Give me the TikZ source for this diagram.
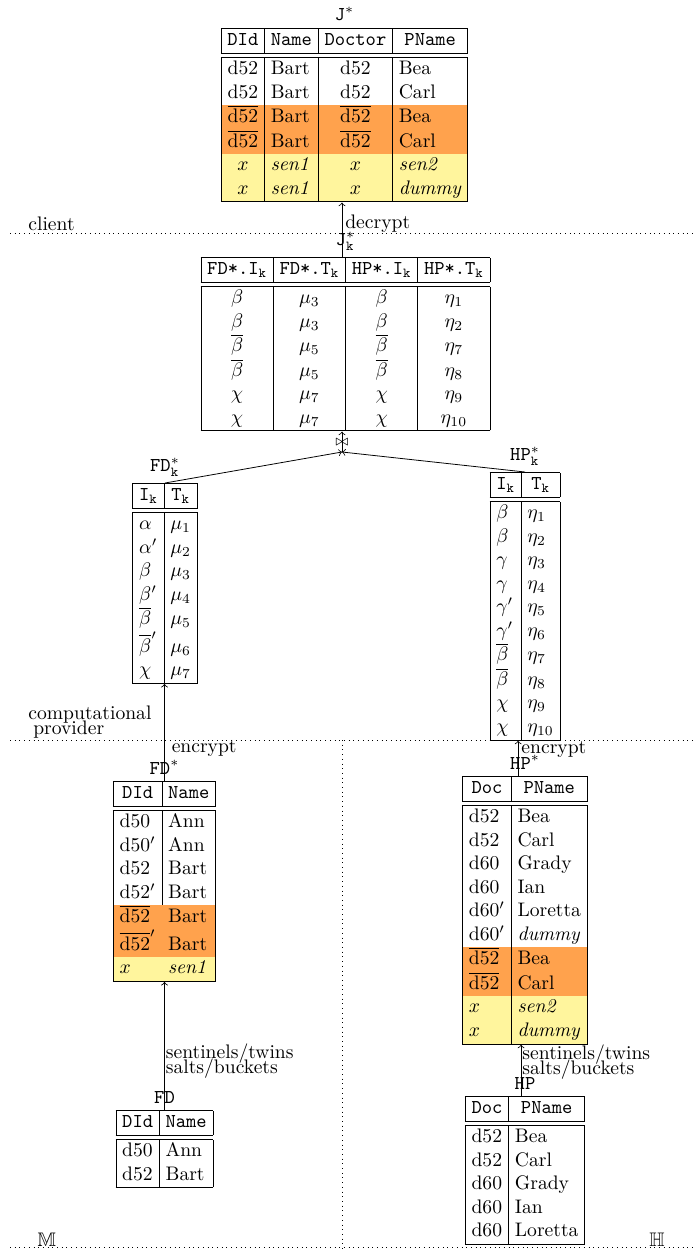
\documentclass[tikz,border=0pt]{standalone}
\usepackage{amsmath,amssymb}
\usepackage{colortbl}

\definecolor{twin}{HTML}{FFA24D}
\definecolor{sentinel}{HTML}{FFF59D}

\setlength{\tabcolsep}{3pt}
\newcommand{\hdf}[1]{\multicolumn{1}{|c|}{\texttt{#1}}}
\newcommand{\hd}[1]{\multicolumn{1}{c|}{\texttt{#1}}}
\newcommand{\ov}[1]{$\overline{\mbox{#1}}$}

\begin{document}
\begin{tikzpicture}[
  x=0.5102pt, y=-0.5102pt,
  tbl/.style={inner sep=0pt, anchor=north},
  flow/.style={->},
  zone/.style={dotted},
  elab/.style={anchor=west, inner sep=1.5pt}
]
\useasboundingbox (0,0) rectangle (695,1249);

% client side
\node[tbl, label=above:{\texttt{J}$^*$}] (J) at (344.5,28) {%
\begin{tabular}{|c|l|c|l|}
\hline
\hdf{DId} & \hd{Name} & \hd{Doctor} & \hd{PName}\\
\hline\hline
d52 & Bart & d52 & Bea\\
d52 & Bart & d52 & Carl\\
\rowcolor{twin} \ov{d52} & Bart & \ov{d52} & Bea\\
\rowcolor{twin} \ov{d52} & Bart & \ov{d52} & Carl\\
\rowcolor{sentinel} $x$ & \emph{sen1} & $x$ & \emph{sen2}\\
\rowcolor{sentinel} $x$ & \emph{sen1} & $x$ & \emph{dummy}\\
\hline
\end{tabular}};

% computational provider
\node[tbl, label=above:{\texttt{J}$^*_\mathtt{k}$}] (Jk) at (345.5,257) {%
\begin{tabular}{|c|c|c|c|}
\hline
\multicolumn{1}{|c|}{\texttt{FD*.I}$_\mathtt{k}$} & \multicolumn{1}{c|}{\texttt{FD*.T}$_\mathtt{k}$} &
\multicolumn{1}{c|}{\texttt{HP*.I}$_\mathtt{k}$} & \multicolumn{1}{c|}{\texttt{HP*.T}$_\mathtt{k}$}\\
\hline\hline
$\beta$ & $\mu_3$ & $\beta$ & $\eta_1$\\
$\beta$ & $\mu_3$ & $\beta$ & $\eta_2$\\
$\overline{\beta}$ & $\mu_5$ & $\overline{\beta}$ & $\eta_7$\\
$\overline{\beta}$ & $\mu_5$ & $\overline{\beta}$ & $\eta_8$\\
$\chi$ & $\mu_7$ & $\chi$ & $\eta_9$\\
$\chi$ & $\mu_7$ & $\chi$ & $\eta_{10}$\\
\hline
\end{tabular}};

\node[tbl, label=above:{\texttt{FD}$^*_\mathtt{k}$}] (FDk) at (165,483) {%
\begin{tabular}{|l|l|}
\hline
\hdf{I$_\mathtt{k}$} & \hd{T$_\mathtt{k}$}\\
\hline\hline
$\alpha$ & $\mu_1$\\
$\alpha'$ & $\mu_2$\\
$\beta$ & $\mu_3$\\
$\beta'$ & $\mu_4$\\
$\overline{\beta}$ & $\mu_5$\\
$\overline{\beta}'$ & $\mu_6$\\
$\chi$ & $\mu_7$\\
\hline
\end{tabular}};

\node[tbl, label=above:{\texttt{HP}$^*_\mathtt{k}$}] (HPk) at (525,472) {%
\begin{tabular}{|l|l|}
\hline
\hdf{I$_\mathtt{k}$} & \hd{T$_\mathtt{k}$}\\
\hline\hline
$\beta$ & $\eta_1$\\
$\beta$ & $\eta_2$\\
$\gamma$ & $\eta_3$\\
$\gamma$ & $\eta_4$\\
$\gamma'$ & $\eta_5$\\
$\gamma'$ & $\eta_6$\\
$\overline{\beta}$ & $\eta_7$\\
$\overline{\beta}$ & $\eta_8$\\
$\chi$ & $\eta_9$\\
$\chi$ & $\eta_{10}$\\
\hline
\end{tabular}};

% data owners
\node[tbl, label=above:{\texttt{FD}$^*$}] (FDs) at (164.5,781) {%
\begin{tabular}{|l|l|}
\hline
\hdf{DId} & \hd{Name}\\
\hline\hline
d50 & Ann\\
d50$'$ & Ann\\
d52 & Bart\\
d52$'$ & Bart\\
\rowcolor{twin} \ov{d52} & Bart\\
\rowcolor{twin} $\overline{\mbox{d52}}'$ & Bart\\
\rowcolor{sentinel} $x$ & \emph{sen1}\\
\hline
\end{tabular}};

\node[tbl, label=above:{\texttt{HP}$^*$}] (HPs) at (525,776) {%
\begin{tabular}{|l|l|}
\hline
\hdf{Doc} & \hd{PName}\\
\hline\hline
d52 & Bea\\
d52 & Carl\\
d60 & Grady\\
d60 & Ian\\
d60$'$ & Loretta\\
d60$'$ & \emph{dummy}\\
\rowcolor{twin} \ov{d52} & Bea\\
\rowcolor{twin} \ov{d52} & Carl\\
\rowcolor{sentinel} $x$ & \emph{sen2}\\
\rowcolor{sentinel} $x$ & \emph{dummy}\\
\hline
\end{tabular}};

\node[tbl, label=above:{\texttt{FD}}] (FD) at (164.5,1110) {%
\begin{tabular}{|l|l|}
\hline
\hdf{DId} & \hd{Name}\\
\hline\hline
d50 & Ann\\
d52 & Bart\\
\hline
\end{tabular}};

\node[tbl, label=above:{\texttt{HP}}] (HP) at (525,1096) {%
\begin{tabular}{|l|l|}
\hline
\hdf{Doc} & \hd{PName}\\
\hline\hline
d52 & Bea\\
d52 & Carl\\
d60 & Grady\\
d60 & Ian\\
d60 & Loretta\\
\hline
\end{tabular}};

% zones
\draw[zone] (10,233) -- (695,233);
\draw[zone] (10,740) -- (695,740);
\draw[zone] (10,1247) -- (695,1247);
\draw[zone] (342,740) -- (342,1249);
\node[anchor=west, inner sep=0pt] (client) at (28,224) {client};
\node[anchor=west, inner sep=0pt, align=left] (provider) at (28,722) {computational\\[-4.5pt]\hspace{2.5pt}provider};
\node[inner sep=0pt] (owner1) at (47,1240) {$\mathbb{M}$};
\node[inner sep=0pt] (owner2) at (657,1240) {$\mathbb{H}$};

% connections
\coordinate (join) at (342,452);
\draw[flow] (FDk.north) -- (join);
\draw[flow] (HPk.north) -- (join);
\draw[flow] (join) -- node[inner sep=0pt, font=\scriptsize] {$\bowtie$} (join |- Jk.south);
\draw[flow] (join |- Jk.north) -- node[elab, pos=0.61] {decrypt} (join |- J.south);

\draw[flow] (FDs.north) -- node[elab, pos=0.34, xshift=2pt] {encrypt} (FDs.north |- FDk.south);
\draw[flow] ([xshift=-3.5pt]HPs.north) -- node[elab, pos=0.74] {encrypt} ([xshift=-3.5pt]HPs.north |- HPk.south);

\draw[flow] (FD.north) -- node[elab, pos=0.38, align=left, inner sep=0.5pt] {sentinels/twins\\[-4.5pt]salts/buckets} (FD.north |- FDs.south);
\draw[flow] ([xshift=-2pt]HP.north) -- node[elab, pos=0.66, align=left, inner sep=0.5pt] {sentinels/twins\\[-4.5pt]salts/buckets} ([xshift=-2pt]HP.north |- HPs.south);

\end{tikzpicture}
\end{document}
